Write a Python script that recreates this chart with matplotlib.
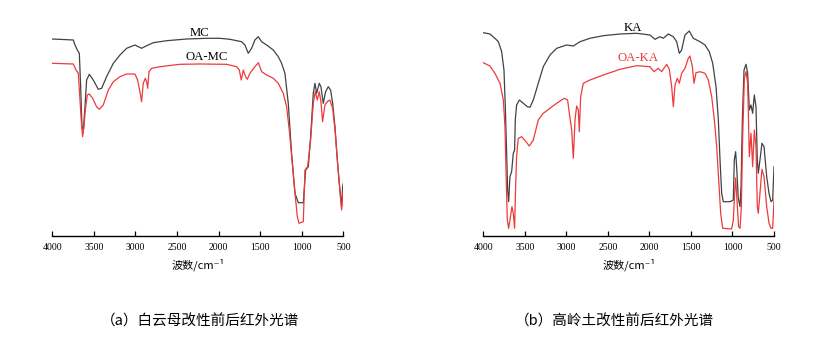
import matplotlib
matplotlib.use("Agg")
import matplotlib.pyplot as plt

# ---- FTIR spectra (wavenumber in cm-1, transmittance in arbitrary units) ----
mc_wn = [4000, 3747, 3727, 3699, 3675, 3659, 3643, 3627, 3607, 3587, 3555, 3507, 3447, 3407,
         3347, 3266, 3186, 3106, 3006, 2926, 2865, 2785, 2625, 2384, 2144, 1984, 1863, 1783,
         1723, 1683, 1643, 1603, 1563, 1523, 1482, 1422, 1342, 1282, 1242, 1202, 1162, 1122,
         1081, 1041, 981, 953, 921, 893, 861, 841, 821, 789, 769, 741, 713, 681, 653, 628,
         600, 572, 552, 532, 520, 508, 500]
mc_t = [197.0, 196.0, 191.0, 186.0, 182.7, 149.3, 109.3, 106.0, 129.3, 156.0, 161.7, 156.0,
        146.7, 147.7, 159.3, 172.7, 181.0, 187.7, 191.0, 187.7, 190.3, 193.3, 195.3, 197.0,
        197.7, 197.7, 196.7, 195.3, 194.3, 191.0, 182.7, 187.7, 196.0, 199.3, 194.3, 191.0,
        186.0, 179.3, 172.7, 162.7, 132.7, 82.7, 42.7, 33.3, 33.3, 66.0, 69.3, 99.3, 142.7,
        152.7, 142.7, 152.7, 149.3, 132.7, 144.3, 149.3, 146.0, 132.7, 109.3, 76.0, 56.0,
        39.3, 29.3, 49.3, 52.7]

oamc_wn = [4000, 3747, 3715, 3687, 3667, 3647, 3635, 3619, 3603, 3579, 3555, 3515, 3467, 3435,
           3387, 3326, 3266, 3186, 3106, 3006, 2974, 2946, 2926, 2906, 2881, 2865, 2853, 2837,
           2805, 2705, 2465, 2224, 1903, 1783, 1751, 1727, 1703, 1675, 1655, 1623, 1563, 1522,
           1482, 1422, 1342, 1282, 1222, 1182, 1150, 1110, 1081, 1053, 1033, 981, 961, 929,
           893, 861, 837, 813, 789, 769, 749, 721, 693, 661, 628, 600, 568, 548, 532, 520,
           508, 500]
oamc_t = [172.7, 172.0, 166.0, 162.7, 136.0, 109.3, 99.3, 109.3, 126.0, 141.0, 142.0, 137.7,
          129.3, 126.7, 131.0, 146.0, 154.3, 159.3, 162.0, 162.0, 156.0, 144.3, 134.3, 152.7,
          157.7, 154.3, 147.7, 164.3, 167.7, 169.3, 171.7, 172.0, 171.7, 169.3, 166.0, 156.0,
          166.0, 159.3, 156.7, 162.7, 169.3, 173.3, 164.3, 161.0, 157.7, 152.7, 142.7, 129.3,
          106.0, 69.3, 42.7, 19.3, 12.7, 14.3, 66.0, 69.3, 96.0, 132.7, 144.3, 136.0, 144.3,
          134.3, 114.3, 131.0, 134.3, 136.0, 127.7, 106.0, 72.7, 52.7, 36.0, 26.0, 39.3, 46.0]

ka_wn = [4000, 3920, 3860, 3819, 3779, 3751, 3735, 3719, 3707, 3695, 3679, 3659, 3639, 3623,
         3615, 3599, 3566, 3518, 3470, 3438, 3398, 3338, 3278, 3197, 3117, 2997, 2916, 2836,
         2716, 2555, 2354, 2154, 1993, 1933, 1873, 1833, 1772, 1712, 1672, 1640, 1612, 1572,
         1520, 1471, 1391, 1331, 1279, 1238, 1198, 1170, 1150, 1130, 1110, 1030, 990, 978,
         962, 950, 930, 909, 897, 881, 861, 837, 817, 797, 777, 757, 737, 717, 701, 689, 669,
         645, 620, 588, 560, 536, 516, 500]
ka_t = [203.3, 202.0, 197.7, 194.3, 184.3, 166.0, 129.3, 82.7, 46.0, 34.3, 59.3, 64.3, 82.7,
        86.0, 116.0, 131.0, 136.0, 132.7, 129.3, 128.7, 136.0, 152.7, 169.3, 181.0, 187.7,
        191.0, 190.0, 194.3, 197.7, 200.3, 202.0, 202.7, 201.0, 196.7, 199.3, 197.7, 202.0,
        199.3, 194.3, 182.7, 186.0, 201.0, 205.0, 197.7, 194.3, 191.0, 184.3, 172.7, 149.3,
        116.0, 76.0, 42.7, 34.3, 34.3, 36.0, 76.0, 84.3, 69.3, 37.7, 29.3, 49.3, 116.0, 166.0,
        171.7, 162.7, 126.0, 131.0, 122.7, 141.0, 129.3, 76.0, 62.7, 76.0, 92.7, 89.3, 59.3,
        42.7, 34.3, 36.0, 69.3]

oaka_wn = [4000, 3920, 3860, 3799, 3759, 3739, 3727, 3711, 3695, 3679, 3655, 3639, 3623, 3611,
           3599, 3579, 3538, 3486, 3446, 3398, 3338, 3278, 3197, 3117, 3025, 2985, 2964, 2936,
           2916, 2896, 2876, 2856, 2844, 2828, 2796, 2716, 2555, 2354, 2154, 1993, 1945, 1893,
           1853, 1792, 1760, 1732, 1712, 1692, 1664, 1640, 1612, 1572, 1532, 1512, 1483, 1463,
           1439, 1391, 1331, 1291, 1250, 1218, 1190, 1166, 1142, 1118, 1010, 990, 974, 962,
           946, 926, 909, 893, 877, 857, 837, 817, 797, 777, 757, 737, 717, 701, 689, 669, 645,
           620, 588, 560, 536, 516, 500]
oaka_t = [173.3, 170.0, 162.7, 152.7, 136.0, 109.3, 66.0, 16.0, 7.7, 16.0, 29.3, 22.7, 7.7,
          49.3, 79.3, 97.7, 99.3, 94.3, 90.0, 96.0, 116.0, 122.7, 127.7, 132.7, 137.7, 136.0,
          122.7, 106.0, 77.7, 116.0, 130.0, 126.0, 104.3, 139.3, 152.7, 156.0, 161.0, 166.7,
          170.3, 169.3, 164.3, 167.7, 164.3, 171.7, 166.7, 149.3, 129.3, 151.0, 157.7, 152.7,
          162.7, 167.7, 177.7, 180.0, 169.3, 152.7, 163.3, 164.3, 162.7, 156.0, 139.3, 116.0,
          89.3, 56.0, 22.7, 7.7, 7.0, 16.0, 42.7, 58.0, 36.0, 9.3, 7.7, 29.3, 99.3, 157.7,
          164.3, 152.7, 79.3, 102.7, 69.3, 106.0, 89.3, 29.3, 22.7, 42.7, 66.7, 59.3, 29.3,
          12.7, 7.7, 7.7, 36.0]

x_ticks = [4000, 3500, 3000, 2500, 2000, 1500, 1000, 500]
x_label = "波数/cm⁻¹"
captions = ["（a）白云母改性前后红外光谱", "（b）高岭土改性前后红外光谱"]

GRAY = "#424242"
RED = "#ee3a3a"
CJK = ["Noto Sans CJK SC", "DejaVu Sans"]
SERIF = "Liberation Serif"

fig = plt.figure(figsize=(8.16, 3.41), dpi=100)
W, H = 816, 341

panels = [
    dict(left=52.3, width=291.0,
         series=[(mc_wn, mc_t, GRAY, "MC", "black", 2224, 203.5),
                 (oamc_wn, oamc_t, RED, "OA-MC", "black", 2143, 179.0)],
         caption_x=200),
    dict(left=483.3, width=290.7,
         series=[(ka_wn, ka_t, GRAY, "KA", "black", 2198, 208.0),
                 (oaka_wn, oaka_t, RED, "OA-KA", RED, 2138, 178.0)],
         caption_x=614),
]

bottom_px = 236
height_px = 215

for p, cap in zip(panels, captions):
    ax = fig.add_axes([p["left"] / W, (H - bottom_px) / H, p["width"] / W, height_px / H])
    for wn, t, col, name, tcol, lx, ly in p["series"]:
        ax.plot(wn, t, color=col, lw=0.9)
        ax.text(lx, ly, name, color=tcol, fontsize=9.2, family=SERIF,
                ha="center", va="center")
    ax.set_xlim(4000, 500)
    ax.set_ylim(0, height_px)
    for s in ("top", "right", "left"):
        ax.spines[s].set_visible(False)
    ax.spines["bottom"].set_linewidth(1.0)
    ax.spines["bottom"].set_color("black")
    ax.set_yticks([])
    ax.set_xticks(x_ticks)
    ax.set_xticklabels([str(v) for v in x_ticks], family=SERIF, fontsize=7)
    ax.tick_params(axis="x", direction="in", length=3.4, width=0.9, pad=5.0, colors="black")
    ax.patch.set_visible(False)

    cx = (p["left"] + p["width"] / 2) / W
    fig.text(cx, 1 - 265 / H, x_label, family=CJK, fontsize=8, ha="center", va="center")
    fig.text(p["caption_x"] / W, 1 - 321 / H, cap, family=CJK, fontsize=10.5,
             ha="center", va="center")

fig.savefig("out.png", dpi=100)
